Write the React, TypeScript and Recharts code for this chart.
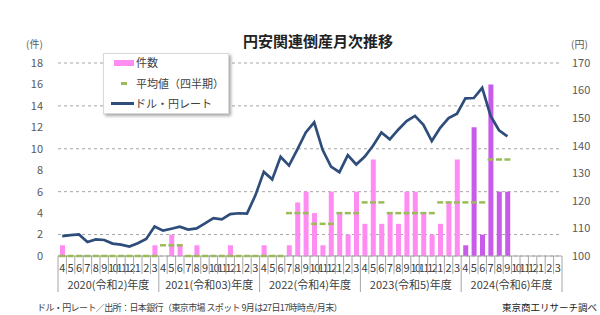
import React from "react";
import { ComposedChart, Bar, Line, XAxis, YAxis, CartesianGrid, Cell } from "recharts";

// 年度内の月（4月始まり）
const monthLabels = ["4", "5", "6", "7", "8", "9", "10", "11", "12", "1", "2", "3"];
const fiscalYearLabels = [
  "2020(令和2)年度",
  "2021(令和03)年度",
  "2022(令和4)年度",
  "2023(令和5)年度",
  "2024(令和6)年度",
];

// 円安関連倒産 件数（2020年4月〜2025年3月）
const counts = [
  1, 0, 0, 0, 0, 0, 0, 0, 0, 0, 0, 1,
  0, 2, 1, 0, 1, 0, 0, 0, 1, 0, 0, 0,
  1, 0, 0, 1, 5, 6, 4, 1, 6, 4, 2, 6,
  3, 9, 3, 4, 3, 6, 6, 4, 2, 3, 5, 9,
  1, 12, 2, 16, 6, 6, null, null, null, null, null, null,
];

// 平均値（四半期）
const quarterAvg = [0, 0, 0, 0, 1, 0, 0, 0, 0, 4, 3, 4, 5, 4, 4, 5, 5, 9, null, null];

// ドル・円レート（月末）
const usdJpy = [
  107.2, 107.6, 107.8, 105.1, 106.0, 105.8, 104.5, 104.1, 103.4, 104.6, 106.2, 110.7,
  109.2, 109.9, 110.6, 109.6, 110.0, 111.8, 113.7, 113.3, 115.2, 115.5, 115.4, 122.0,
  130.5, 127.8, 136.0, 132.8, 138.7, 144.8, 148.5, 138.5, 132.4, 130.4, 136.6, 133.2,
  136.0, 140.0, 144.8, 142.3, 145.8, 148.9, 150.8, 147.6, 141.7, 146.5, 150.0, 151.6,
  157.2, 157.3, 161.0, 150.8, 145.6, 143.4,
];

const countTicks = [0, 2, 4, 6, 8, 10, 12, 14, 16, 18];
const rateTicks = [100, 110, 120, 130, 140, 150, 160, 170];

const data = counts.map((c, i) => ({
  idx: i,
  month: monthLabels[i % 12],
  fy: Math.floor(i / 12),
  count: c,
  avg: quarterAvg[Math.floor(i / 3)],
  rate: i < usdJpy.length ? usdJpy[i] : null,
}));

const W = 600;
const H = 315;
const PLOT_LEFT = 58;
const PLOT_RIGHT = 562;
const PLOT_TOP = 63;
const PLOT_BOTTOM = 256;
const BAND = (PLOT_RIGHT - PLOT_LEFT) / data.length;

const PINK = "#FF8CF2";
const PURPLE = "#C95BEA";
const NAVY = "#2E4D7B";
const GREEN = "#9BBB59";
const FONT = "'Noto Sans CJK JP', 'Noto Sans', sans-serif";

function MonthTick(props: any) {
  const { x, y, index } = props;
  const row = data[index];
  if (!row) return <g />;
  const half = BAND / 2;
  const yearStart = index % 12 === 0;
  const isLast = index === data.length - 1;
  const label = row.month;
  return (
    <g>
      <line x1={x - half} x2={x - half} y1={y} y2={yearStart ? y + 36 : y + 18} stroke="#A6A6A6" />
      {isLast && <line x1={x + half} x2={x + half} y1={y} y2={y + 36} stroke="#A6A6A6" />}
      <text
        x={x}
        y={y + 16}
        textAnchor="middle"
        fontSize={11}
        fill="#404040"
        letterSpacing={label.length > 1 ? -1.5 : 0}
      >
        {label}
      </text>
      {index % 12 === 5 && (
        <text x={x + half} y={y + 33} textAnchor="middle" fontSize={11} fill="#404040">
          {fiscalYearLabels[row.fy]}
        </text>
      )}
    </g>
  );
}

function AvgDash(props: any) {
  const { cx, cy, index, value } = props;
  if (value == null || cy == null || isNaN(cy)) return <g key={`d${index}`} />;
  return (
    <line
      key={`d${index}`}
      x1={cx - 3}
      x2={cx + 3}
      y1={cy}
      y2={cy}
      stroke={GREEN}
      strokeWidth={2.5}
    />
  );
}

export default function App() {
  return (
    <div
      style={{
        position: "absolute",
        left: 0,
        top: 0,
        width: W,
        height: H,
        overflow: "hidden",
        background: "#fff",
        fontFamily: FONT,
      }}
    >
      <ComposedChart
        width={W}
        height={H}
        data={data}
        margin={{ top: PLOT_TOP, right: 0, left: 0, bottom: 0 }}
        barCategoryGap={0}
        style={{ fontFamily: FONT }}
      >
        <CartesianGrid
          yAxisId="left"
          horizontal
          vertical={false}
          stroke="#A6A6A6"
          strokeDasharray="3 3"
        />
        <XAxis
          dataKey="idx"
          interval={0}
          height={H - PLOT_BOTTOM}
          tickSize={0}
          tickMargin={0}
          tickLine={false}
          axisLine={{ stroke: "#A6A6A6" }}
          tick={<MonthTick />}
        />
        <YAxis
          yAxisId="left"
          orientation="left"
          width={PLOT_LEFT}
          domain={[0, 18]}
          ticks={countTicks}
          tickSize={0}
          tickMargin={15}
          axisLine={false}
          tickLine={false}
          tick={{ fontSize: 11, fill: "#595959" }}
        />
        <YAxis
          yAxisId="right"
          orientation="right"
          width={W - PLOT_RIGHT}
          domain={[100, 170]}
          ticks={rateTicks}
          tickSize={0}
          tickMargin={10}
          axisLine={false}
          tickLine={false}
          tick={{ fontSize: 11, fill: "#595959", textAnchor: "start" }}
        />
        <Bar yAxisId="left" dataKey="count" barSize={5} isAnimationActive={false}>
          {data.map((d) => (
            <Cell key={d.idx} fill={d.fy === 4 ? PURPLE : PINK} />
          ))}
        </Bar>
        <Line
          yAxisId="left"
          dataKey="avg"
          stroke="none"
          dot={AvgDash}
          activeDot={false}
          isAnimationActive={false}
        />
        <Line
          yAxisId="right"
          dataKey="rate"
          type="linear"
          stroke={NAVY}
          strokeWidth={2.7}
          dot={false}
          activeDot={false}
          isAnimationActive={false}
        />
      </ComposedChart>

      <div
        style={{
          position: "absolute",
          left: 243,
          top: 30,
          fontSize: 15,
          fontWeight: "bold",
          color: "#222",
          whiteSpace: "nowrap",
        }}
      >
        円安関連倒産月次推移
      </div>
      <div style={{ position: "absolute", left: 26, top: 36, fontSize: 10, color: "#595959" }}>(件)</div>
      <div style={{ position: "absolute", left: 571, top: 36, fontSize: 10, color: "#595959" }}>(円)</div>

      <div
        style={{
          position: "absolute",
          left: 103,
          top: 53,
          width: 124,
          height: 59,
          background: "#fff",
          border: "1px solid #D9D9D9",
          boxShadow: "2px 2px 3px rgba(0,0,0,0.35)",
          fontSize: 11,
          color: "#404040",
        }}
      >
        <div style={{ position: "absolute", left: 10, top: 6, width: 20, height: 6, background: PINK }} />
        <div style={{ position: "absolute", left: 32, top: 0, whiteSpace: "nowrap" }}>件数</div>
        <div style={{ position: "absolute", left: 17, top: 28, width: 6, height: 2.5, background: GREEN }} />
        <div style={{ position: "absolute", left: 32, top: 21, whiteSpace: "nowrap" }}>平均値（四半期）</div>
        <div style={{ position: "absolute", left: 7, top: 48, width: 23, height: 2.5, background: NAVY }} />
        <div style={{ position: "absolute", left: 31, top: 41, whiteSpace: "nowrap" }}>ドル・円レート</div>
      </div>

      <div
        style={{
          position: "absolute",
          left: 37,
          top: 301,
          fontSize: 9,
          color: "#404040",
          whiteSpace: "nowrap",
          letterSpacing: -0.6,
        }}
      >
        ドル・円レート／出所：日本銀行（東京市場 スポット 9月は27日17時時点/月末）
      </div>
      <div
        style={{
          position: "absolute",
          left: 502,
          top: 300,
          fontSize: 9.5,
          color: "#222",
          whiteSpace: "nowrap",
        }}
      >
        東京商工リサーチ調べ
      </div>
    </div>
  );
}
